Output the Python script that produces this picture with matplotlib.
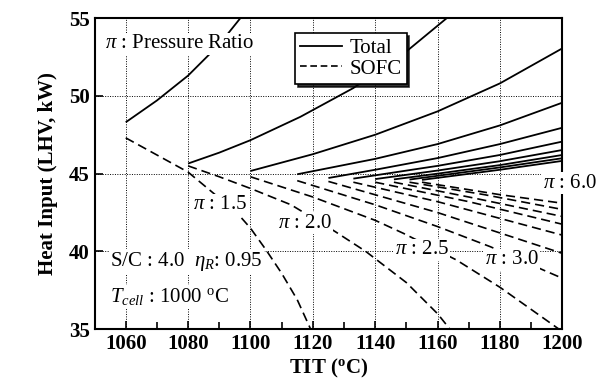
import numpy as np
import matplotlib.pyplot as plt
from matplotlib.lines import Line2D

plt.rcParams['font.family'] = 'Liberation Serif'
plt.rcParams['mathtext.fontset'] = 'custom'
plt.rcParams['mathtext.rm'] = 'Liberation Serif'
plt.rcParams['mathtext.it'] = 'Liberation Serif:italic'
plt.rcParams['mathtext.bf'] = 'Liberation Serif:bold'

# pressure ratios and curves: (TIT [C], heat input [kW])
ratios = [1.5, 2.0, 2.5, 3.0, 3.5, 4.0, 4.5, 5.0, 5.5, 6.0]

total_tit = [
    [1060, 1070, 1080, 1090, 1100],
    [1080, 1090, 1100, 1116, 1133, 1150, 1163, 1170],
    [1100, 1120, 1140, 1160, 1180, 1200],
    [1115, 1140, 1160, 1180, 1200],
    [1125, 1140, 1160, 1180, 1200],
    [1133, 1160, 1180, 1200],
    [1140, 1160, 1180, 1200],
    [1146, 1160, 1180, 1200],
    [1151, 1180, 1200],
    [1155, 1180, 1200],
]
total_kw = [
    [48.3, 49.7, 51.3, 53.3, 55.8],
    [45.65, 46.35, 47.15, 48.65, 50.5, 52.85, 55.0, 56.3],
    [45.17, 46.25, 47.5, 49.0, 50.8, 53.05],
    [44.96, 45.95, 46.9, 48.1, 49.56],
    [44.72, 45.25, 46.0, 46.9, 47.95],
    [44.68, 45.5, 46.2, 47.06],
    [44.65, 45.2, 45.8, 46.52],
    [44.63, 45.0, 45.55, 46.2],
    [44.62, 45.4, 45.99],
    [44.6, 45.25, 45.82],
]

sofc_tit = [
    [1060, 1070, 1080, 1086, 1095.6, 1100, 1105, 1110, 1115, 1120],
    [1080, 1090, 1100, 1113, 1127, 1137, 1150, 1160, 1164],
    [1100, 1120, 1140, 1149, 1166, 1180, 1199],
    [1115, 1140, 1160, 1177, 1194, 1200],
    [1125, 1160, 1200],
    [1133, 1160, 1200],
    [1140, 1170, 1200],
    [1146, 1170, 1200],
    [1151, 1175, 1200],
    [1155, 1180, 1200],
]
sofc_kw = [
    [47.3, 46.2, 45.1, 44.1, 42.5, 41.5, 40.1, 38.6, 36.9, 34.7],
    [45.5, 44.8, 44.05, 43.0, 41.3, 40.0, 38.0, 36.0, 35.0],
    [44.8, 43.5, 42.0, 41.17, 39.46, 37.7, 35.0],
    [44.55, 43.0, 41.6, 40.3, 38.8, 38.28],
    [44.5, 42.5, 39.88],
    [44.45, 43.2, 41.05],
    [44.45, 43.2, 41.75],
    [44.45, 43.5, 42.25],
    [44.45, 43.65, 42.7],
    [44.45, 43.65, 43.1],
]

# label positions for the pressure ratio tags
tag_ratios = ['1.5', '2.0', '2.5', '3.0', '6.0']
tag_x = [1090.2, 1117.5, 1154.9, 1183.8, 1202.3]
tag_y = [42.99, 41.8, 40.1, 39.46, 44.38]

fig = plt.figure(figsize=(6.11, 3.88), dpi=100)
ax = fig.add_axes([0.1547, 0.1513, 0.7656, 0.8023])

for t, q in zip(total_tit, total_kw):
    ax.plot(t, q, color='black', lw=1.3, solid_capstyle='butt')
for t, q in zip(sofc_tit, sofc_kw):
    ax.plot(t, q, color='black', lw=1.2, linestyle=(0, (5.5, 3.0)))

ax.set_xlim(1050, 1200)
ax.set_ylim(35, 55)
ax.set_xticks(np.arange(1060, 1201, 20))
ax.set_xticks(np.arange(1050, 1201, 10), minor=True)
ax.set_yticks([35, 40, 45, 50, 55])
ax.grid(True, which='major', linestyle=(0, (1, 1.5)), color='black', lw=0.7)
ax.tick_params(which='both', direction='in', top=False, right=False,
               labelsize=15, width=1.2)
ax.tick_params(which='major', length=6)
ax.tick_params(which='minor', length=5)
for lab in ax.get_xticklabels() + ax.get_yticklabels():
    lab.set_fontweight('bold')
for sp in ax.spines.values():
    sp.set_linewidth(1.5)

ax.set_xlabel(r'TIT ($\mathbf{^{o}}$C)', fontsize=15, fontweight='bold', labelpad=2)
ax.set_ylabel('Heat Input (LHV, kW)', fontsize=15, fontweight='bold', labelpad=8)

box = dict(facecolor='white', edgecolor='none', pad=1.0)
for r, x, y in zip(tag_ratios, tag_x, tag_y):
    ax.text(x, y, r'$\pi$ : ' + r, fontsize=15, ha='center', va='center',
            bbox=box, zorder=5, clip_on=False)

ax.text(1053.4, 53.33, r'$\pi$ : Pressure Ratio', fontsize=15, ha='left',
        va='center', bbox=box, zorder=5)
ax.text(1055, 39.35, r'S/C : 4.0  $\eta_R$: 0.95', fontsize=15, ha='left',
        va='center', bbox=box, zorder=5)
ax.text(1055, 37.1, r'$T_{cell}$ : 1000 $^{\rm o}$C', fontsize=15, ha='left',
        va='center', bbox=box, zorder=5)

handles = [Line2D([], [], color='black', lw=1.3),
           Line2D([], [], color='black', lw=1.2, linestyle=(0, (4, 2.2)))]
leg = ax.legend(handles, ['Total', 'SOFC'], loc='upper left',
                bbox_to_anchor=(0.429, 0.951), fontsize=15, frameon=True,
                fancybox=False, shadow={'color': 'black', 'alpha': 0.8},
                framealpha=1, edgecolor='black', handlelength=2.0,
                borderpad=0.25, labelspacing=0.05, handletextpad=0.35,
                borderaxespad=0)
leg.get_frame().set_linewidth(1.2)
leg.set_zorder(6)

fig.savefig('out.png', dpi=100)
